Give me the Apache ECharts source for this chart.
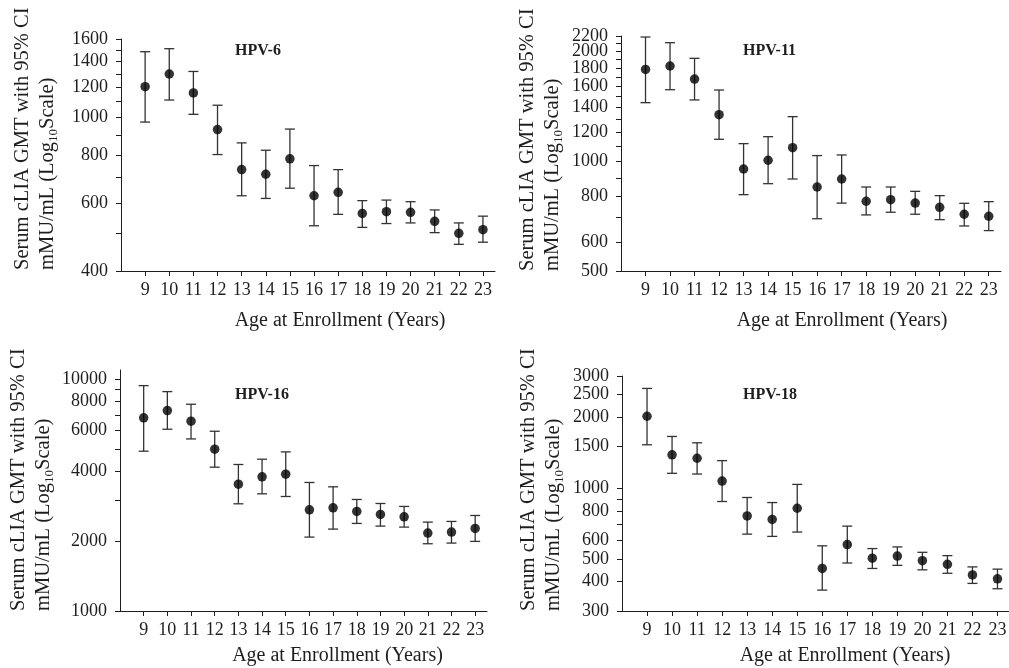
<!DOCTYPE html>
<html>
<head>
<meta charset="utf-8">
<script src="https://cdn.jsdelivr.net/npm/echarts@6.0.0/dist/echarts.min.js"></script>
<style>
  html, body { margin: 0; padding: 0; background: #fff; }
  #main { width: 1009px; height: 668px; }
</style>
</head>
<body>
<div id="main"></div>
<script>
// ages on the x axis
const ages = [9, 10, 11, 12, 13, 14, 15, 16, 17, 18, 19, 20, 21, 22, 23];

// HPV-6
const hpv6Gmt   = [1203, 1298, 1159, 931, 733, 713, 782, 627, 640, 564, 570, 568, 538, 501, 512];
const hpv6Upper = [1483, 1510, 1318, 1077, 860, 823, 934, 751, 733, 609, 611, 605, 576, 533, 555];
const hpv6Lower = [974, 1111, 1020, 802, 627, 617, 656, 524, 561, 519, 531, 533, 503, 469, 475];
const hpv6Labels = [400, 600, 800, 1000, 1200, 1400, 1600];
const hpv6Ticks = [400, 500, 600, 700, 800, 900, 1000, 1100, 1200, 1300, 1400, 1500, 1600];

// HPV-11
const hpv11Gmt   = [1782, 1821, 1677, 1340, 951, 1005, 1088, 849, 893, 776, 784, 767, 747, 715, 706];
const hpv11Upper = [2186, 2109, 1911, 1565, 1116, 1166, 1323, 1035, 1039, 849, 849, 826, 804, 766, 774];
const hpv11Lower = [1445, 1568, 1470, 1147, 809, 867, 893, 695, 767, 712, 724, 715, 691, 664, 645];
const hpv11Labels = [500, 600, 800, 1000, 1200, 1400, 1600, 1800, 2000, 2200];
const hpv11Ticks = [500, 600, 700, 800, 900, 1000, 1100, 1200, 1300, 1400, 1500, 1600, 1700, 1800, 1900, 2000, 2100, 2200];

// HPV-16
const hpv16Gmt   = [6797, 7306, 6576, 4980, 3521, 3787, 3888, 2730, 2785, 2685, 2606, 2547, 2166, 2188, 2269];
const hpv16Upper = [9361, 8820, 7780, 5953, 4279, 4510, 4850, 3580, 3429, 3024, 2906, 2822, 2416, 2432, 2580];
const hpv16Lower = [4883, 6072, 5515, 4167, 2897, 3199, 3115, 2082, 2254, 2384, 2322, 2299, 1949, 1962, 1995];
const hpv16Labels = [1000, 2000, 4000, 6000, 8000, 10000];
const hpv16Ticks = [1000, 2000, 3000, 4000, 5000, 6000, 7000, 8000, 9000, 10000];

// HPV-18
const hpv18Gmt   = [2022, 1385, 1340, 1071, 761, 736, 821, 455, 575, 503, 514, 491, 474, 427, 411];
const hpv18Upper = [2656, 1659, 1559, 1309, 912, 868, 1037, 568, 689, 553, 562, 533, 516, 462, 452];
const hpv18Lower = [1529, 1156, 1148, 877, 637, 623, 650, 368, 480, 455, 469, 449, 434, 393, 373];
const hpv18Labels = [300, 400, 500, 600, 800, 1000, 1500, 2000, 2500, 3000];
const hpv18Ticks = [300, 400, 500, 600, 700, 800, 900, 1000, 1500, 2000, 2500, 3000];

const serif = '"Liberation Serif", "Times New Roman", serif';
const ink = '#1e1e1e';

const panels = [
  { name: 'HPV-6', gmt: hpv6Gmt, up: hpv6Upper, lo: hpv6Lower, labels: hpv6Labels, ticks: hpv6Ticks,
    min: 399.9, max: 1600.1, grid: { left: 121, top: 39, right: 514, bottom: 397 },
    title: { left: 235, top: 43 }, nameX: 35, nameY: 270, xShift: 32, xGap: 40 },
  { name: 'HPV-11', gmt: hpv11Gmt, up: hpv11Upper, lo: hpv11Lower, labels: hpv11Labels, ticks: hpv11Ticks,
    min: 499.9, max: 2200.1, grid: { left: 621, top: 36, right: 8, bottom: 397 },
    title: { left: 743, top: 43 }, nameX: 540, nameY: 271, xShift: 31, xGap: 40 },
  { name: 'HPV-16', gmt: hpv16Gmt, up: hpv16Upper, lo: hpv16Lower, labels: hpv16Labels, ticks: hpv16Ticks,
    min: 999.9, max: 10930, grid: { left: 120, top: 370, right: 522, bottom: 57 },
    title: { left: 235, top: 387 }, nameX: 31, nameY: 611, xShift: 34, xGap: 35 },
  { name: 'HPV-18', gmt: hpv18Gmt, up: hpv18Upper, lo: hpv18Lower, labels: hpv18Labels, ticks: hpv18Ticks,
    min: 299.9, max: 3000.1, grid: { left: 622, top: 376, right: -1, bottom: 57 },
    title: { left: 743, top: 387 }, nameX: 541, nameY: 611, xShift: 29, xGap: 35 }
];

const grids = [], xAxes = [], yAxes = [], extraY = [], series = [], titles = [], texts = [];

const yLabelStyle = { fontFamily: serif, fontSize: 18, color: ink, margin: 13, formatter: v => String(Math.round(v)) };

panels.forEach((p, i) => {
  grids.push(Object.assign({ outerBoundsMode: 'none', containLabel: false }, p.grid));
  titles.push({
    text: p.name, left: p.title.left, top: p.title.top, padding: 0,
    textStyle: { fontFamily: serif, fontSize: 16, fontWeight: 'bold', color: ink }
  });
  xAxes.push({
    gridIndex: i, type: 'value', min: 8, max: 23.5, interval: 1,
    name: 'Age at Enrollment (Years)', nameLocation: 'middle', nameGap: p.xGap,
    nameTextStyle: { fontFamily: serif, fontSize: 20, color: ink, padding: [0, 0, 0, p.xShift * 2] },
    axisLine: { show: true, lineStyle: { color: ink, width: 1 } },
    axisTick: { show: true, inside: false, length: 5, customValues: ages, lineStyle: { color: ink } },
    axisLabel: { customValues: ages, fontFamily: serif, fontSize: 18, color: ink, margin: 10 },
    splitLine: { show: false }
  });
  // labels are split over two stacked left axes so the tightly packed ones are not dropped
  const evenLabels = p.labels.filter((v, k) => k % 2 === 0);
  const oddLabels = p.labels.filter((v, k) => k % 2 === 1);
  yAxes.push({
    gridIndex: i, type: 'log', logBase: 10, min: p.min, max: p.max, position: 'left', offset: 0,
    axisLine: { show: true, lineStyle: { color: ink, width: 1 } },
    axisTick: { show: true, inside: false, length: 5, customValues: p.ticks, lineStyle: { color: ink } },
    axisLabel: Object.assign({ customValues: evenLabels, showMinLabel: true, showMaxLabel: true }, yLabelStyle),
    splitLine: { show: false }
  });
  extraY.push({
    gridIndex: i, type: 'log', logBase: 10, min: p.min, max: p.max, position: 'left', offset: 0,
    axisLine: { show: false }, axisTick: { show: false },
    axisLabel: Object.assign({ customValues: oddLabels, showMinLabel: true, showMaxLabel: true }, yLabelStyle),
    splitLine: { show: false }
  });
  // error bars
  series.push({
    type: 'custom', xAxisIndex: i, yAxisIndex: i,
    data: ages.map((a, k) => [a, p.lo[k], p.up[k]]),
    encode: { x: 0, y: [1, 2] },
    renderItem: (params, api) => {
      const lo = api.coord([api.value(0), api.value(1)]);
      const hi = api.coord([api.value(0), api.value(2)]);
      const w = 5;
      const st = { stroke: '#333', lineWidth: 1.3 };
      return {
        type: 'group',
        children: [
          { type: 'line', shape: { x1: lo[0], y1: lo[1], x2: hi[0], y2: hi[1] }, style: st },
          { type: 'line', shape: { x1: hi[0] - w, y1: hi[1], x2: hi[0] + w, y2: hi[1] }, style: st },
          { type: 'line', shape: { x1: lo[0] - w, y1: lo[1], x2: lo[0] + w, y2: lo[1] }, style: st }
        ]
      };
    },
    silent: true, z: 2
  });
  // GMT points
  series.push({
    type: 'scatter', xAxisIndex: i, yAxisIndex: i,
    data: ages.map((a, k) => [a, p.gmt[k]]),
    symbol: 'circle', symbolSize: 9.5,
    itemStyle: { color: '#000' },
    silent: true, z: 3
  });
  // y axis name, two lines starting at the bottom of the axis
  texts.push({
    type: 'text', x: p.nameX, y: p.nameY, rotation: Math.PI / 2,
    style: {
      text: 'Serum cLIA GMT with 95% CI\nmMU/mL (Log{sub|10}Scale)',
      font: '20.5px ' + serif, fill: ink, align: 'left', verticalAlign: 'middle', lineHeight: 25,
      rich: { sub: { fontSize: 13, fontFamily: serif, fill: ink, verticalAlign: 'bottom', padding: [10, 0, 0, 0] } }
    }
  });
});

const chart = echarts.init(document.getElementById('main'));
chart.setOption({
  backgroundColor: '#fff',
  animation: false,
  title: titles,
  grid: grids,
  xAxis: xAxes,
  yAxis: yAxes.concat(extraY),
  series: series,
  graphic: texts
});
</script>
</body>
</html>
